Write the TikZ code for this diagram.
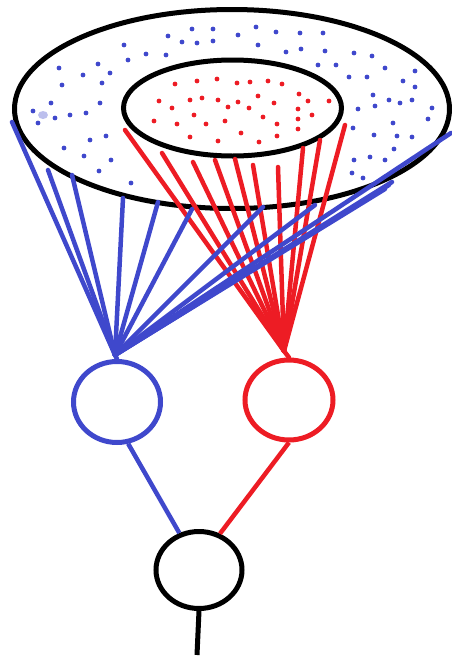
\documentclass[tikz,border=0pt]{standalone}
\usetikzlibrary{shapes.geometric, positioning}
\definecolor{cBlue}{RGB}{63,72,204}
\definecolor{cRed}{RGB}{237,28,36}
\tikzset{
    disc/.style={ellipse, draw=black, line width=5pt, inner sep=0pt},
    unit/.style={ellipse, line width=5pt, inner sep=0pt, minimum width=87pt, minimum height=81pt},
    bwire/.style={draw=cBlue, line width=4.5pt, line cap=round},
    rwire/.style={draw=cRed, line width=4.5pt, line cap=round},
    kwire/.style={draw=black, line width=5pt},
}
\begin{document}
\begin{tikzpicture}[x=1pt, y=-1pt]
    \useasboundingbox (0,0) rectangle (452,659);
    % the two fields
    \node[disc, minimum width=435pt, minimum height=199pt] (outer) at (232,109) {};
    \node[disc, minimum width=218pt, minimum height=96pt] (inner) at (232.5,108) {};
    \foreach \x/\y in {192/29,213/29,256/27,276/32,300/33,323/33,168/36,238/35,182/42,197/43,213/41,124/45,258/45,286/52,301/49,325/51,146/54,128/60,166/55,354/53,372/56,59/68,98/64,83/75,110/73,318/65,336/65,385/68,415/71,62/85,102/83,349/77,367/77,403/81,415/87,51/103,100/103,373/95,389/100,400/103,412/100,432/108,33/111,70/115,86/113,55/118,38/123,358/109,375/106,428/119,353/128,393/123,374/135,397/136,412/137,90/140,106/136,64/148,394/149,84/156,111/160,354/160,370/157,385/160,99/171,352/173,363/178,131/183}
        \fill[cBlue] (\x,\y) circle (2.4pt);
    \fill[cBlue!35] (43,115) ellipse (5pt and 4pt);
    \foreach \x/\y in {175/84,197/81,217/79,237/83,250/82,268/81,282/84,159/101,190/100,202/98,218/100,238/102,258/96,274/103,299/94,308/101,329/101,172/108,228/107,249/108,298/109,154/121,194/115,177/124,206/124,225/121,263/117,277/124,298/119,312/115,190/137,218/141,241/133,259/142,277/136,298/129}
        \fill[cRed] (\x,\y) circle (2.4pt);

    % units
    \node[unit, draw=cBlue] (bunit) at (117,402) {};
    \node[unit, draw=cRed, minimum width=88pt, minimum height=80pt] (runit) at (289,400) {};
    \node[unit, draw=black, minimum width=86pt, minimum height=77pt] (kunit) at (199,570) {};
    \coordinate (bfan) at (115,355);
    \coordinate (rfan) at (284,351);
    \coordinate (out) at (197,655);

    % fan-in
    \foreach \x/\y [count=\i] in {12/122,48/170,72/175,123/198,158/202,192/209,263/207,315/205,385/189,389/185,392/182,451/133}
        \coordinate (b\i) at (\x,\y);
    \foreach \x/\y [count=\i] in {125/130,162/153,193/162,215/160,235/159,253/165,278/167,303/148,320/140,345/125}
        \coordinate (r\i) at (\x,\y);
    \foreach \i in {1,...,10}
        \draw[rwire] (rfan) -- (r\i);
    \foreach \i in {1,...,12}
        \draw[bwire] (bfan) -- (b\i);
    \draw[bwire] (bfan) -- (bunit.north);
    \draw[rwire] (rfan) -- (runit.north);

    % output
    \draw[bwire, line cap=butt] (bunit.-75) -- (kunit.118);
    \draw[rwire, line cap=butt] (runit.south) -- (kunit.60);
    \draw[kwire] (kunit.south) -- (out);
\end{tikzpicture}
\end{document}
